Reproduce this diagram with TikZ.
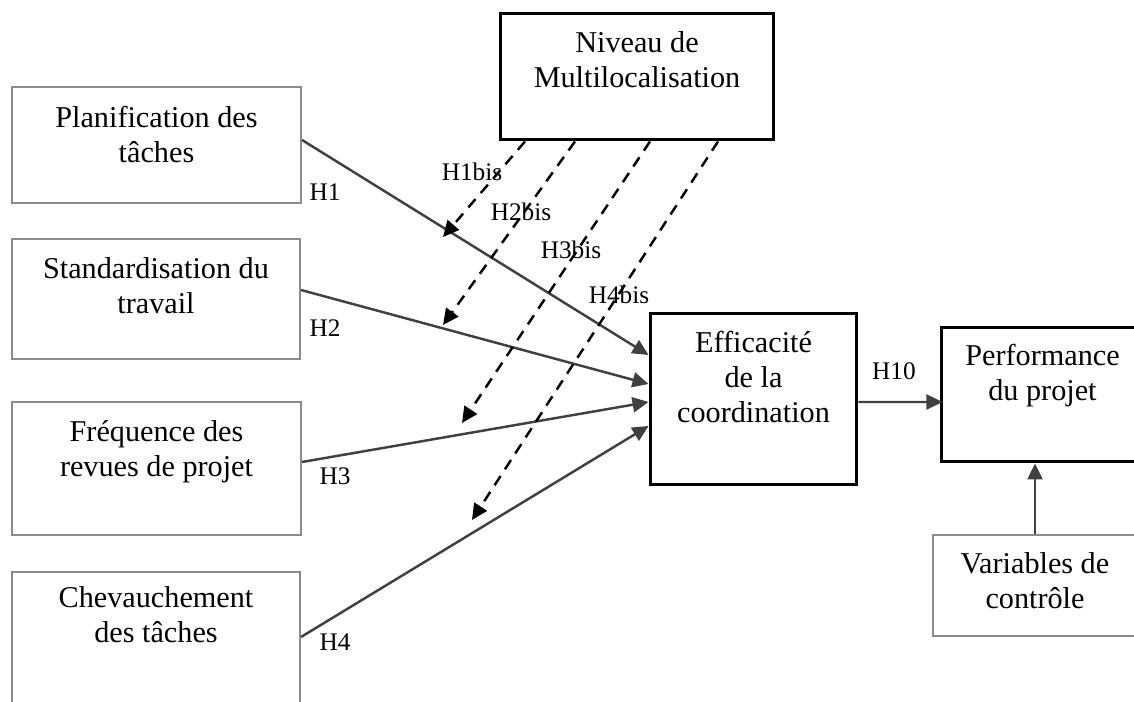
\documentclass[tikz,border=0pt]{standalone}
\usepackage{fontspec}
\setmainfont{Liberation Serif}
\usetikzlibrary{arrows.meta,calc}

\definecolor{boxgrey}{HTML}{8C8C8C}
\definecolor{linkgrey}{HTML}{404040}

\begin{document}
\begin{tikzpicture}[x=0.02cm, y=-0.02cm,
	greybox/.style={draw=boxgrey, line width=1.2pt, inner sep=0pt},
	blackbox/.style={draw=black, line width=1.7pt, inner sep=0pt},
	boxtext/.style={anchor=north, align=center, inner sep=0pt, font=\fontsize{17.2}{20}\selectfont},
	hyp/.style={inner sep=0pt, font=\fontsize{14.4}{16}\selectfont},
	link/.style={draw=linkgrey, line width=1.4pt, -{Triangle[length=0.32cm,width=0.3cm]}},
	modlink/.style={draw=black, line width=1.4pt, dash pattern=on 0.22cm off 0.16cm, -{Triangle[length=0.32cm,width=0.3cm]}}]
	\useasboundingbox (0,0) rectangle (1134,702);
	\clip (0,0) rectangle (1134,702);

	% left column
	\node[greybox, minimum width=5.78cm, minimum height=2.32cm] (plan) at (156.5,145) {};
	\node[boxtext] (plan-t) at ($(plan.north)+(0,19.5)$) {Planification des\\tâches};
	\node[greybox, minimum width=5.76cm, minimum height=2.4cm] (stand) at (156,299) {};
	\node[boxtext] (stand-t) at ($(stand.north)+(0,19.5)$) {Standardisation du\\travail};
	\node[greybox, minimum width=5.78cm, minimum height=2.66cm] (freq) at (156.5,468.5) {};
	\node[boxtext] (freq-t) at ($(freq.north)+(0,19.5)$) {Fréquence des\\revues de projet};
	\node[greybox, minimum width=5.76cm, minimum height=3.16cm] (chev) at (156,651) {};
	\node[boxtext] (chev-t) at ($(chev.north)+(0,15)$) {Chevauchement\\des tâches};

	% moderator
	\node[blackbox, minimum width=5.48cm, minimum height=2.54cm] (niv) at (637,76.5) {};
	\node[boxtext] (niv-t) at ($(niv.north)+(0,19.5)$) {Niveau de\\Multilocalisation};

	% centre and right
	\node[blackbox, minimum width=4.14cm, minimum height=3.44cm] (eff) at (753.5,399) {};
	\node[boxtext] (eff-t) at ($(eff.north)+(0,19.5)$) {Efficacité\\de la\\coordination};
	\node[blackbox, minimum width=4.06cm, minimum height=2.7cm] (perf) at (1042.5,394.5) {};
	\node[boxtext] (perf-t) at ($(perf.north)+(0,18.5)$) {Performance\\du projet};
	\node[greybox, minimum width=4.08cm, minimum height=2.02cm] (var) at (1035,585.5) {};
	\node[boxtext] (var-t) at ($(var.north)+(0,18.5)$) {Variables de\\contrôle};

	% direct effects
	\draw[link] ($(plan.east)+(0,-5)$) -- ($(eff.west)+(0,-44)$);
	\draw[link] ($(stand.east)+(0,-9)$) -- ($(eff.west)+(0,-15)$);
	\draw[link] ($(freq.east)+(0,-6.5)$) -- ($(eff.west)+(0,3)$);
	\draw[link] ($(chev.east)+(0,-14)$) -- ($(eff.west)+(0,27)$);
	\draw[link] ($(eff.east)+(0,3)$) -- ($(eff.east |- perf.west)+(84,7.5)$);
	\draw[link] (var.north) -- (var.north |- perf.south);

	% moderating effects
	\coordinate (m1) at (443,237); % H1bis end
	\coordinate (m2) at (443,325); % H2bis end
	\coordinate (m3) at (462,423); % H3bis end
	\coordinate (m4) at (472,520); % H4bis end
	\draw[modlink] ($(niv.south)+(-112,0)$) -- (m1);
	\draw[modlink] ($(niv.south)+(-62,0)$) -- (m2);
	\draw[modlink] ($(niv.south)+(13,0)$) -- (m3);
	\draw[modlink] ($(niv.south)+(81,0)$) -- (m4);

	% labels
	\node[hyp] (h1) at (325,192) {H1};
	\node[hyp] (h2) at (325,328) {H2};
	\node[hyp] (h3) at (335,476) {H3};
	\node[hyp] (h4) at (335,642) {H4};
	\node[hyp] (h1b) at (472,172) {H1bis};
	\node[hyp] (h2b) at (521,212) {H2bis};
	\node[hyp] (h3b) at (571,250) {H3bis};
	\node[hyp] (h4b) at (619,295) {H4bis};
	\node[hyp] (h10) at (894,371) {H10};
\end{tikzpicture}
\end{document}
